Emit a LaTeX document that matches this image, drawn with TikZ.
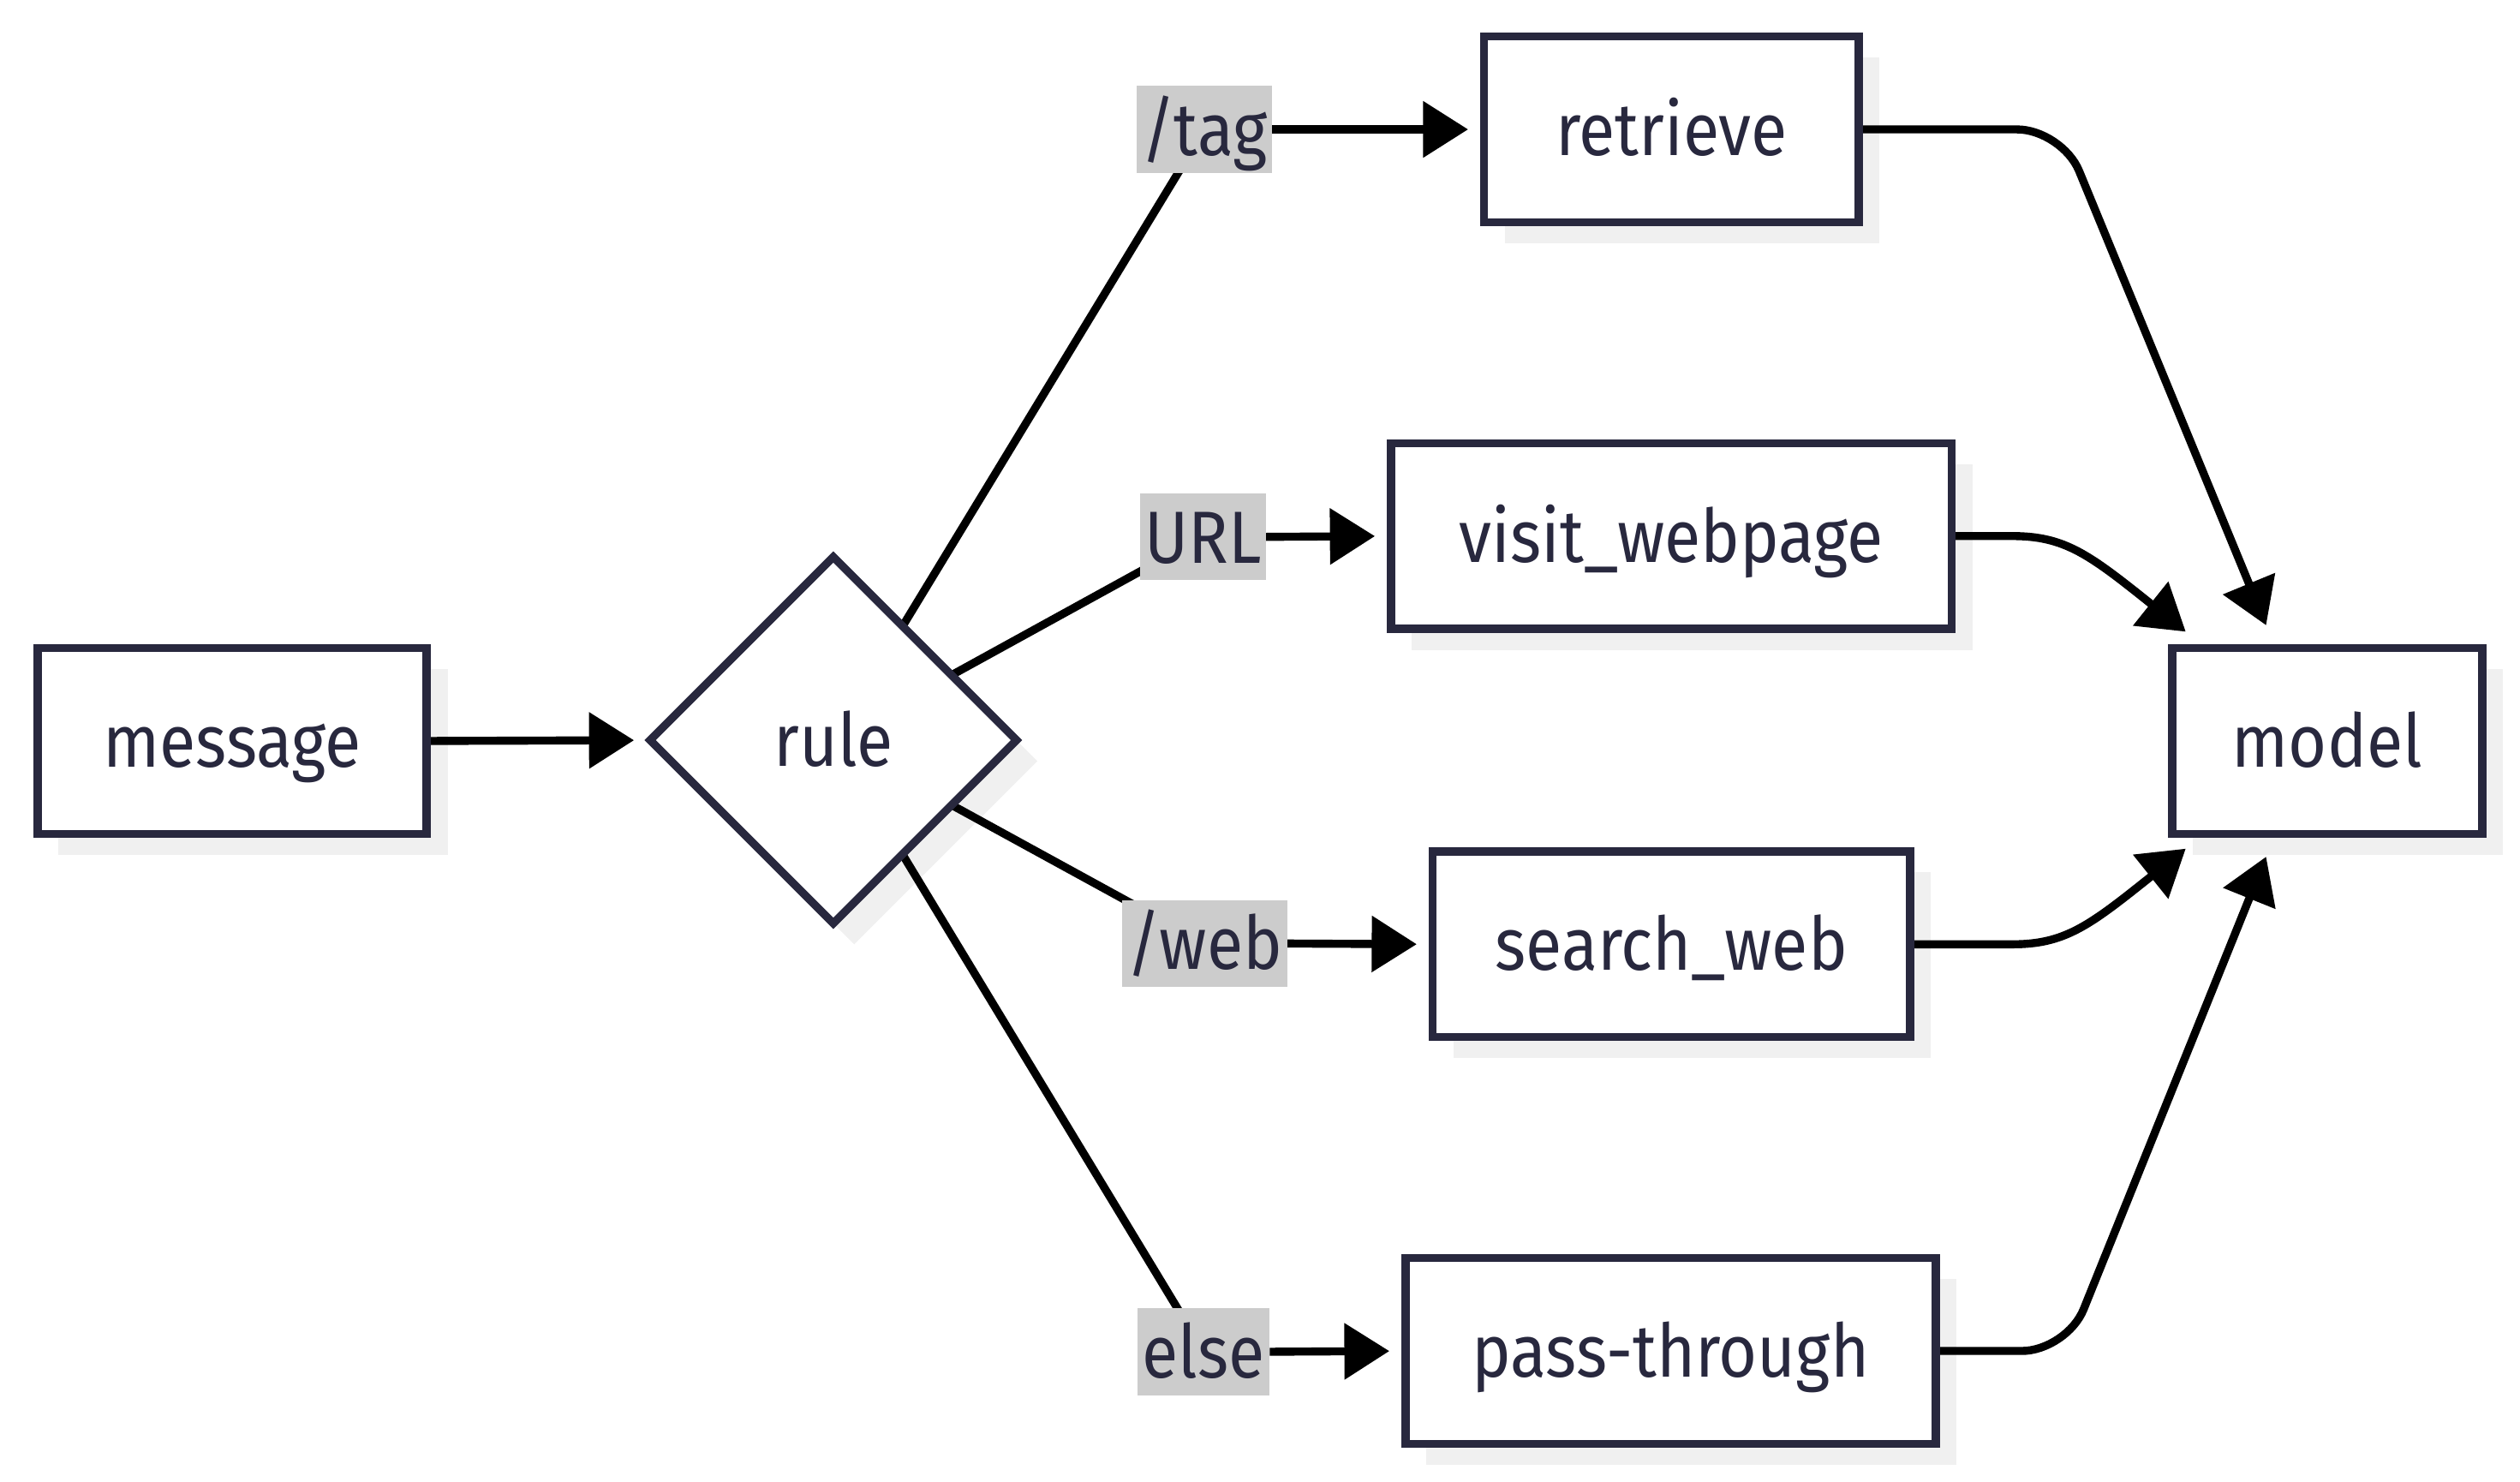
\documentclass[tikz,border=0pt]{standalone}
\usepackage{fontspec}
\setmainfont{Fira Sans}[FakeStretch=0.895]
\usetikzlibrary{arrows.meta,shapes.geometric,calc}
\definecolor{navy}{RGB}{40,40,62}
\definecolor{shadowc}{RGB}{240,240,240}
\definecolor{lblbg}{RGB}{204,204,204}
\pgfdeclarelayer{bg}\pgfdeclarelayer{edges}\pgfsetlayers{bg,edges,main}
\begin{document}
\begin{tikzpicture}[x=1pt,y=-1pt,
  txt/.style={text=navy,font=\fontsize{46}{56}\selectfont,text height=39.5pt,text depth=6.9pt},
  box/.style={txt,draw=navy,line width=5pt,fill=white,rectangle,inner sep=0pt,outer sep=0pt,minimum height=115.5pt},
  lbl/.style={txt,fill=lblbg,inner xsep=3pt,inner ysep=3.8pt,outer sep=0pt},
  edge/.style={line width=5pt,black},
  arr/.style={edge,-{Triangle[length=28pt,width=34pt]},shorten >=10pt},
  marr/.style={edge,-{Triangle[length=28pt,width=34pt]}},
  shd/.style={fill=shadowc}]
\useasboundingbox (0,0) rectangle (1568,922);
% nodes
\node[box,minimum width=242pt] (message) at (144.5,461) {message};
\node[txt,diamond,draw=navy,line width=5pt,fill=white,inner sep=0pt,outer sep=0pt,aspect=1,minimum width=228pt,minimum height=228pt] (rule) at (518.5,460.5) {rule};
\node[box,minimum width=233pt] (retrieve) at (1040,80.5) {retrieve};
\node[box,minimum width=349pt] (visit) at (1040,333.5) {visit\_webpage};
\node[box,minimum width=297pt] (search) at (1040,587.5) {search\_web};
\node[box,minimum width=330pt] (pass) at (1039.5,840.5) {pass-through};
\node[box,minimum width=193pt] (model) at (1448,461) {model};
\node[lbl] (ltag) at (749.5,80.5) {/tag};
\node[lbl] (lurl) at (748.5,334) {URL};
\node[lbl] (lweb) at (749.5,587) {/web};
\node[lbl] (lelse) at (749,841) {else};
% shadows
\begin{pgfonlayer}{bg}
\foreach \n in {message,retrieve,visit,search,pass,model}{
  \fill[shd] ([shift={(13,13)}]\n.south west) rectangle ([shift={(13,13)}]\n.north east);
}
\fill[shd] ([shift={(13,13)}]rule.north) -- ([shift={(13,13)}]rule.east) -- ([shift={(13,13)}]rule.south) -- ([shift={(13,13)}]rule.west) -- cycle;
\end{pgfonlayer}
% edges
\coordinate (t1) at (1410,389);
\coordinate (t2) at (1360,393);
\coordinate (t3) at (1360,528);
\coordinate (t4) at (1410,533);
\begin{pgfonlayer}{edges}
\draw[arr] (message.east) -- (rule.west);
\draw[edge] (rule) -- (ltag.center);
\draw[edge] (rule) -- (lurl.center);
\draw[edge] (rule) -- (lweb.center);
\draw[edge] (rule) -- (lelse.center);
\draw[arr] (ltag.east) -- (retrieve.west);
\draw[arr] (lurl.east) -- (visit.west);
\draw[arr] (lweb.east) -- (search.west);
\draw[arr] (lelse.east) -- (pass.west);
\draw[marr,rounded corners=28pt] (retrieve.east) -- (1283,80.5) -- (t1);
\draw[marr] (visit.east) -- (1252,333.5) .. controls (1285,333.5) and (1300,345) .. (t2);
\draw[marr] (search.east) -- (1252,587.5) .. controls (1285,587.5) and (1300,576) .. (t3);
\draw[marr,rounded corners=28pt] (pass.east) -- (1286,840.5) -- (t4);
\end{pgfonlayer}
\end{tikzpicture}
\end{document}
